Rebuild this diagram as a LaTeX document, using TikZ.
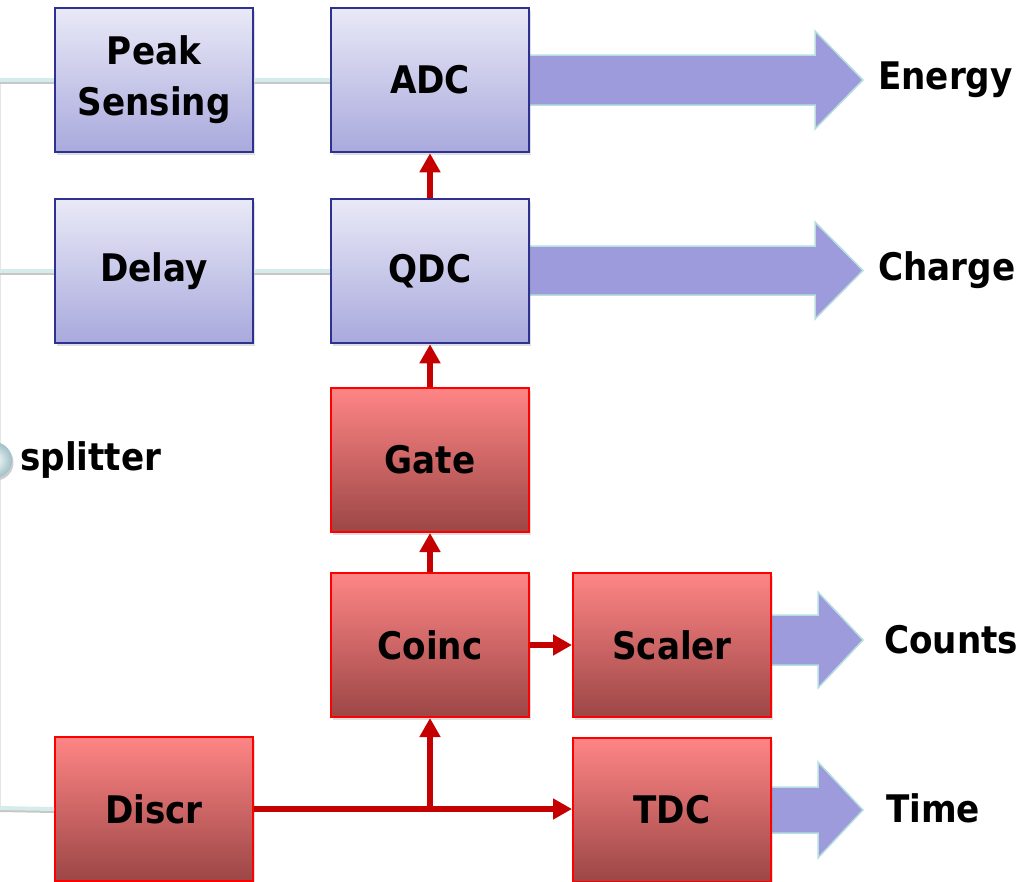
\documentclass[tikz,border=0pt]{standalone}
\usepackage{fontspec}
\setmainfont{DejaVu Sans Condensed}
\usetikzlibrary{arrows.meta,shadows,calc}
\definecolor{bluetop}{HTML}{E9E9F7}
\definecolor{bluebot}{HTML}{A9A9DD}
\definecolor{blueedge}{HTML}{2D3190}
\definecolor{redtop}{HTML}{FF8585}
\definecolor{redbot}{HTML}{9C4646}
\definecolor{redline}{HTML}{C40000}
\definecolor{fatfill}{HTML}{9D9BDC}
\definecolor{fatedge}{HTML}{B6E0E0}
\definecolor{cable}{HTML}{D6EBEB}
\definecolor{ballc}{HTML}{9EC0C6}
\tikzset{
  lbl/.style={font=\fontsize{38}{51}\selectfont\bfseries},
  boxbase/.style={lbl, rectangle, minimum width=198pt, minimum height=144pt, inner sep=0pt, align=center,
    drop shadow={opacity=0.25, shadow xshift=2pt, shadow yshift=-3pt}},
  bluebox/.style={boxbase, draw=blueedge, line width=2.5pt, top color=bluetop, bottom color=bluebot},
  redbox/.style={boxbase, draw=red, line width=2pt, top color=redtop, bottom color=redbot},
  sig/.style={draw=redline, line width=5.5pt, -{Triangle[length=19pt,width=20pt]}},
  cableline/.style={draw=cable, line width=4pt},
  cableshadow/.style={draw=black!22, line width=4pt},
  fat/.style={fill=fatfill, draw=fatedge, line width=1.5pt, line join=miter},
  outlbl/.style={lbl, anchor=west, inner sep=0pt},
}
\begin{document}
\begin{tikzpicture}[x=1pt,y=-1pt]
\useasboundingbox (0,0) rectangle (1030,881);
\clip (0,0) rectangle (1030,881);

% cable inputs
\coordinate (in1) at (0,80);
\coordinate (in2) at (0,271);
\coordinate (in3) at (0,808);
\coordinate (sp) at (-6,460);

% fat output arrows (under the boxes)
\draw[fat] (529,55) -- (815,55) -- (815,31) -- (863,80) -- (815,129) -- (815,105) -- (529,105) -- cycle;
\draw[fat] (529,246) -- (815,246) -- (815,222) -- (863,270.5) -- (815,319) -- (815,295) -- (529,295) -- cycle;
\draw[fat] (771,615) -- (818,615) -- (818,592) -- (863,640) -- (818,688) -- (818,665) -- (771,665) -- cycle;
\draw[fat] (771,787) -- (818,787) -- (818,762) -- (863,810) -- (818,858) -- (818,833) -- (771,833) -- cycle;

% boxes
\node[bluebox] (ps) at (154,80) {Peak\\Sensing};
\node[bluebox] (dl) at (154,271) {Delay};
\node[bluebox] (adc) at (430,80) {ADC};
\node[bluebox] (qdc) at (430,271) {QDC};
\node[redbox] (gate) at (430,460) {Gate};
\node[redbox] (coinc) at (430,645) {Coinc};
\node[redbox] (scaler) at (672,645) {Scaler};
\node[redbox] (tdc) at (672,810) {TDC};
\node[redbox] (discr) at (154,809) {Discr};

% cables
\draw[draw=black!10, line width=1.5pt] (in1) -- (in3);
\foreach \a/\b in {in1/ps.west, ps.east/adc.west, in2/dl.west, dl.east/qdc.west, in3/discr.west}{
  \draw[cableshadow, transform canvas={yshift=-2pt}] (\a) -- (\b);
  \draw[cableline] (\a) -- (\b);
}

% splitter
\fill[black!20] ($(sp)+(1.5,2.5)$) circle (18);
\shade[inner color=white, outer color=ballc] (sp) circle (18);
\node[lbl, anchor=west, inner sep=0pt] (splab) at (20,460) {splitter};

% logic signals
\coordinate (j) at (coinc.south |- discr.east);
\draw[sig] (discr.east) -- (tdc.west |- discr.east);
\draw[sig] (j) -- (coinc.south);
\draw[sig] (coinc.east) -- (scaler.west);
\draw[sig] (coinc.north) -- (gate.south);
\draw[sig] (gate.north) -- (qdc.south);
\draw[sig] (qdc.north) -- (adc.south);

% output labels
\node[outlbl] (energy) at (878,80) {Energy};
\node[outlbl] (charge) at (878,270) {Charge};
\node[outlbl] (counts) at (884,640) {Counts};
\node[outlbl] (time) at (886,808) {Time};
\end{tikzpicture}
\end{document}
